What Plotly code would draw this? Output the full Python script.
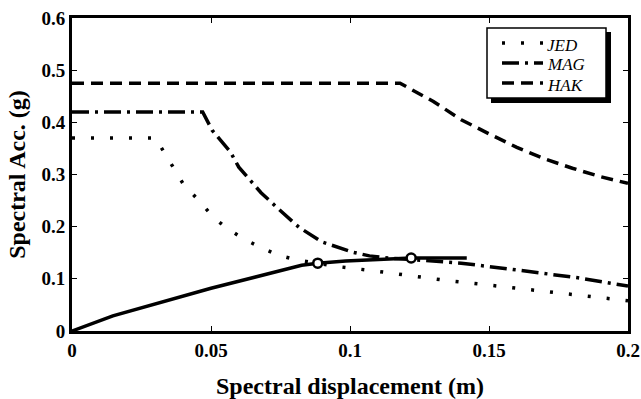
import plotly.graph_objects as go

# ---- data ----
jed_x = [0, 0.030, 0.034, 0.040, 0.0465, 0.0508, 0.056, 0.0616, 0.068, 0.0744, 0.081,
         0.0948, 0.109, 0.1227, 0.136, 0.150, 0.164, 0.177, 0.192, 0.200]
jed_y = [0.37, 0.37, 0.335, 0.282, 0.245, 0.218, 0.196, 0.177, 0.160, 0.145, 0.136,
         0.124, 0.115, 0.105, 0.096, 0.088, 0.080, 0.072, 0.063, 0.058]

mag_x = [0, 0.047, 0.0504, 0.057, 0.060, 0.068, 0.0755, 0.0816, 0.0898, 0.0955, 0.101,
         0.107, 0.1137, 0.122, 0.140, 0.160, 0.182, 0.200]
mag_y = [0.42, 0.42, 0.385, 0.343, 0.314, 0.265, 0.228, 0.199, 0.171, 0.161, 0.151,
         0.144, 0.140, 0.137, 0.130, 0.117, 0.102, 0.086]

hak_x = [0, 0.118, 0.130, 0.140, 0.150, 0.160, 0.170, 0.180, 0.190, 0.200]
hak_y = [0.475, 0.475, 0.440, 0.405, 0.378, 0.352, 0.330, 0.312, 0.296, 0.283]

cap_x = [0, 0.0147, 0.050, 0.0826, 0.0884, 0.0984, 0.122, 0.142]
cap_y = [0, 0.029, 0.082, 0.126, 0.130, 0.134, 0.140, 0.140]

perf_x = [0.0884, 0.122]
perf_y = [0.130, 0.140]

series_names = ["JED", "MAG", "HAK"]
series_dash = ["3px,16px", "17px,6px,3px,6px", "12px,7px"]

x_ticks = [0, 0.05, 0.1, 0.15, 0.2]
x_labels = ["0", "0.05", "0.1", "0.15", "0.2"]
y_ticks = [0, 0.1, 0.2, 0.3, 0.4, 0.5, 0.6]
y_labels = ["0", "0.1", "0.2", "0.3", "0.4", "0.5", "0.6"]

FONT = "Liberation Serif, Times New Roman, serif"
LW = 3.5

fig = go.Figure()
for xs, ys, nm, dsh in zip([jed_x, mag_x, hak_x], [jed_y, mag_y, hak_y], series_names, series_dash):
    fig.add_trace(go.Scatter(x=xs, y=ys, mode="lines", name=nm, showlegend=False,
                             line=dict(color="black", width=LW, dash=dsh)))
fig.add_trace(go.Scatter(x=cap_x, y=cap_y, mode="lines", showlegend=False,
                         line=dict(color="black", width=LW)))
fig.add_trace(go.Scatter(x=perf_x, y=perf_y, mode="markers", showlegend=False,
                         marker=dict(symbol="circle", size=9, color="white",
                                     line=dict(color="black", width=2.5))))

W, H = 641, 399
L, R, T, B = 72, 13, 18, 68
pw, ph = W - L - R, H - T - B

def px(xp):
    return (xp - L) / pw

def py(yp):
    return (H - B - yp) / ph

# ---- legend box (with drop shadow) ----
fig.add_shape(type="rect", xref="paper", yref="paper", x0=px(491), x1=px(611), y0=py(103), y1=py(32),
              fillcolor="black", line=dict(width=0), layer="above")
fig.add_shape(type="rect", xref="paper", yref="paper", x0=px(487), x1=px(606), y0=py(98), y1=py(28),
              fillcolor="white", line=dict(color="black", width=1.5), layer="above")
leg_line_y = [43, 63, 83]
leg_text_y = [45, 65, 85]
for nm, dsh, ly, ty in zip(series_names, series_dash, leg_line_y, leg_text_y):
    fig.add_shape(type="line", xref="paper", yref="paper", x0=px(502), x1=px(543), y0=py(ly), y1=py(ly),
                  line=dict(color="black", width=LW, dash=dsh), layer="above")
    fig.add_annotation(xref="paper", yref="paper", x=px(546), y=py(ty), text="<i>" + nm + "</i>",
                       showarrow=False, xanchor="left", yanchor="middle",
                       borderpad=0,
                       font=dict(family=FONT, size=17, color="black"))

axis_common = dict(showline=True, linecolor="black", linewidth=3, mirror="ticks",
                   ticks="inside", ticklen=5, tickwidth=1, tickcolor="black",
                   showgrid=False, zeroline=False, automargin=False,
                   tickfont=dict(family=FONT, size=19, color="black", weight="bold"))

fig.update_layout(
    width=W, height=H,
    margin=dict(l=L, r=R, t=T, b=B),
    paper_bgcolor="white", plot_bgcolor="white",
    showlegend=False,
    xaxis=dict(range=[0, 0.2], tickvals=x_ticks, ticktext=x_labels,
               title=dict(text="<b>Spectral displacement (m)</b>",
                          font=dict(family=FONT, size=24, color="black"), standoff=18),
               **axis_common),
    yaxis=dict(range=[0, 0.6], tickvals=y_ticks, ticktext=y_labels,
               title=dict(text="<b>Spectral Acc. (g)</b>",
                          font=dict(family=FONT, size=24, color="black"), standoff=10),
               **axis_common),
)

fig.write_html("out.html")
